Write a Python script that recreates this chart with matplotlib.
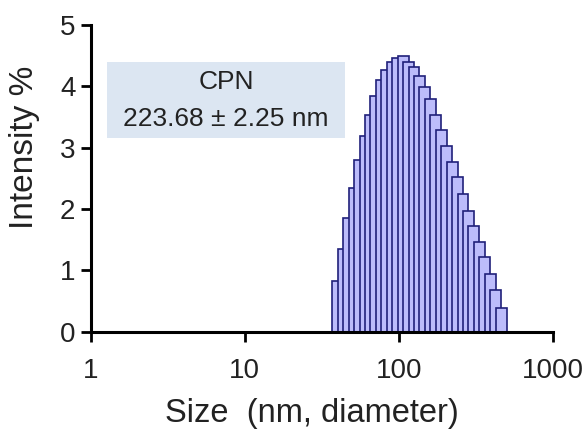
import numpy as np
import matplotlib.pyplot as plt
from matplotlib.patches import Rectangle

plt.rcParams['font.family'] = ['Liberation Sans', 'DejaVu Sans']

# Left edge of each size bin (nm) and intensity (%)
size_nm = [36.97, 40.10, 43.50, 47.19, 51.19, 55.54, 60.25, 65.36, 70.90, 76.91,
           83.43, 90.51, 98.18, 106.5, 115.5, 125.3, 136.0, 147.5, 160.0, 173.6,
           188.3, 204.3, 221.6, 240.4, 260.8, 282.9, 306.9, 332.9, 361.2, 391.8,
           425.0]
intensity = [0.82, 1.35, 1.85, 2.35, 2.80, 3.19, 3.54, 3.85, 4.10, 4.27,
             4.39, 4.46, 4.49, 4.40, 4.31, 4.17, 3.99, 3.79, 3.54, 3.29,
             3.03, 2.77, 2.52, 2.24, 1.97, 1.72, 1.46, 1.21, 0.94, 0.68,
             0.39]
x_ticks = [1, 10, 100, 1000]
y_ticks = [0, 1, 2, 3, 4, 5]
label_name = 'CPN'
label_value = '223.68 ± 2.25 nm'


def size_plot():
    fig = plt.figure(figsize=(5.87, 4.29), dpi=100)
    ax = fig.add_axes([0.1545, 0.2268, 0.7875, 0.715])

    # each bar spans two bin steps, so neighbours overlap like the original software
    left = np.array(size_nm)
    width = left * (1.0848 ** 2 - 1)
    ax.bar(left, intensity, width=width, align='edge',
           color='#bcbcfb', edgecolor='#20207a', linewidth=1.2)

    ax.set_xscale('log')
    ax.set_xlim(1, 1000)
    ax.set_ylim(0, 5)
    ax.set_xticks(x_ticks)
    ax.set_xticklabels([str(t) for t in x_ticks])
    ax.set_yticks(y_ticks)
    ax.minorticks_off()

    for side in ['top', 'right']:
        ax.spines[side].set_visible(False)
    for side in ['left', 'bottom']:
        ax.spines[side].set_linewidth(2.2)
    ax.tick_params(axis='both', width=2, length=7, labelsize=20, pad=4,
                   labelcolor='#222222')
    ax.tick_params(axis='x', pad=12)

    ax.set_xlabel('Size  (nm, diameter)', fontsize=23.5, color='#222222')
    ax.xaxis.set_label_coords(0.478, -0.215)
    ax.set_ylabel('Intensity %', fontsize=24, color='#222222')
    ax.yaxis.set_label_coords(-0.11, 0.6)

    # sample label box
    ax.add_patch(Rectangle((0.035, 0.632), 0.515, 0.247, transform=ax.transAxes,
                           facecolor='#dce6f2', edgecolor='none', zorder=0))
    ax.text(0.293, 0.815, label_name, transform=ax.transAxes,
            ha='center', va='center', fontsize=19, color='#222222')
    ax.text(0.293, 0.695, label_value, transform=ax.transAxes,
            ha='center', va='center', fontsize=19, color='#222222')

    fig.savefig('out.png', dpi=100)


if __name__ == '__main__':
    size_plot()
